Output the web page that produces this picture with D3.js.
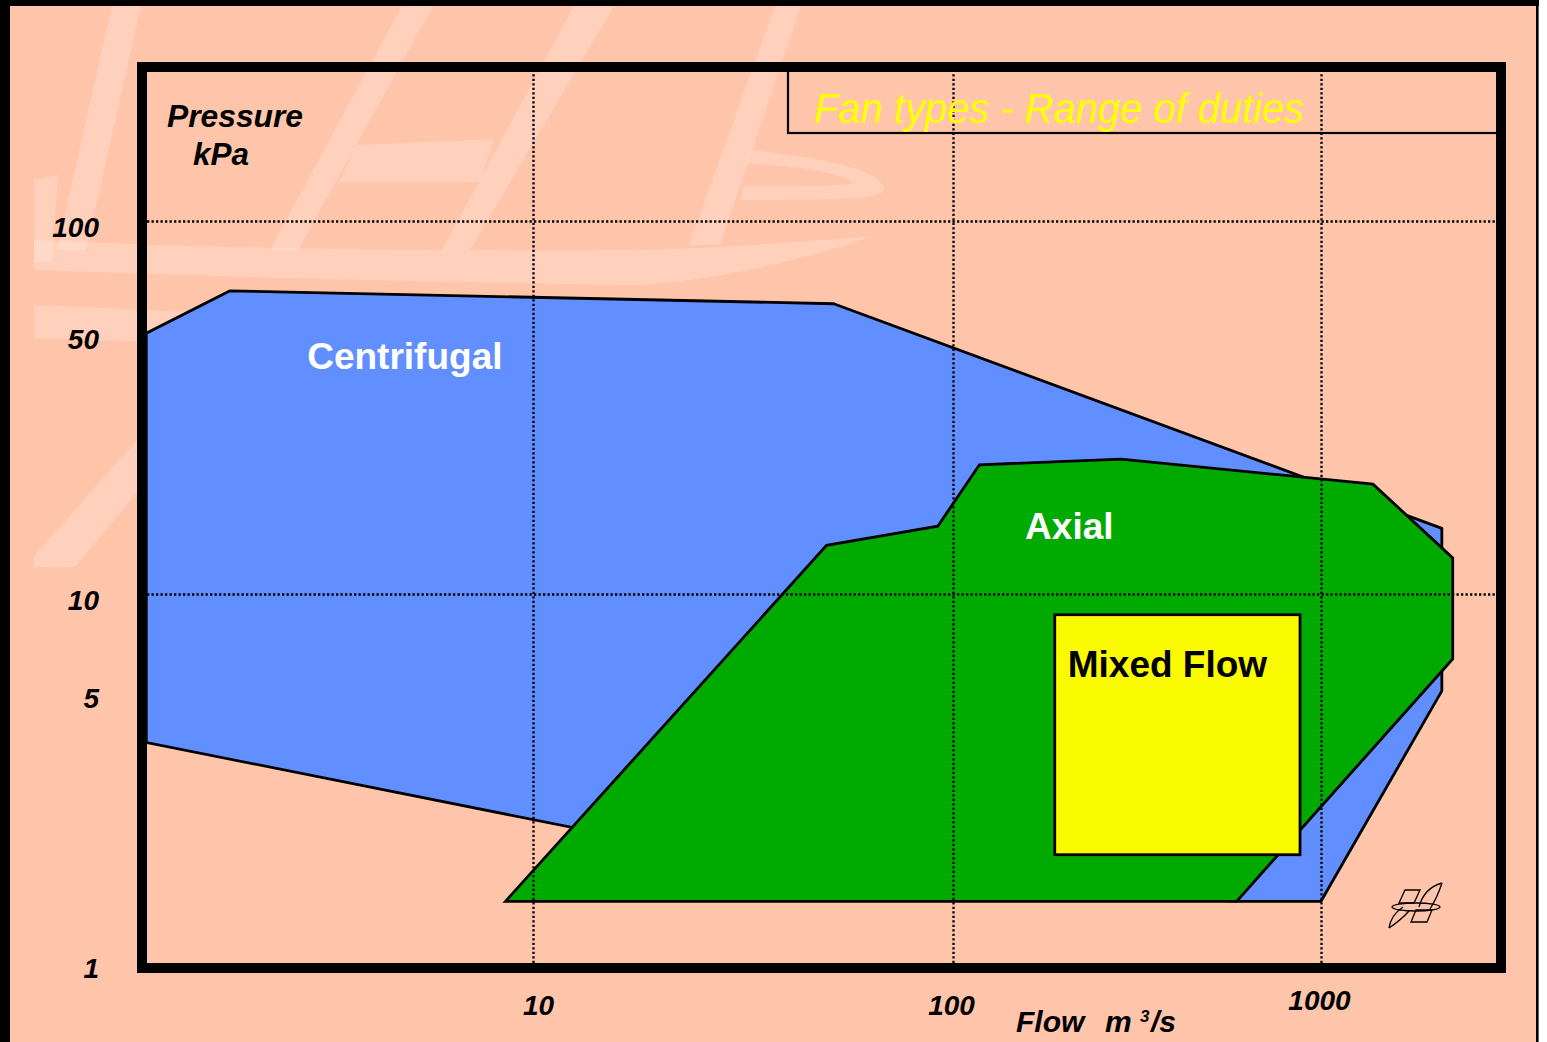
<!DOCTYPE html>
<html><head><meta charset="utf-8">
<script src="https://cdn.jsdelivr.net/npm/d3@7"></script>
<style>
html,body{margin:0;padding:0;background:#fff;overflow:hidden}
svg{display:block}
text{font-family:"Liberation Sans",Arial,Helvetica,sans-serif}
</style></head><body>
<svg id="c" width="1547" height="1042"></svg>
<script>
// ---------- data ----------
const flowTicks = [10, 100, 1000];
const pressureTicks = [1, 5, 10, 50, 100];
const gridFlow = [10, 100, 1000];
const gridPressure = [10, 100];
const centrifugalFlow = [1.2, 1.9, 52, 2130, 2130, 1000, 590, 43, 1.2];
const centrifugalPressure = [50, 65, 60, 15, 5.5, 1.5, 1.5, 1.79, 4];
const axialFlow = [8.6, 50, 92, 118, 286, 1384, 2280, 2280, 590];
const axialPressure = [1.5, 13.5, 15.2, 22.2, 23, 19.7, 12.5, 6.7, 1.5];
const mixedFlowRange = [189, 877];
const mixedPressureRange = [2, 8.8];
const regionNames = ["Centrifugal", "Axial", "Mixed Flow"];
const labelFlow = [2.9, 157, 205];
const labelPressure = [40, 14, 6];
const titleText = "Fan types - Range of duties";
const yAxisTitle = ["Pressure", "kPa"];

// ---------- layout ----------
const inner = {l: 147, r: 1496, t: 72, b: 963};
const x = d3.scaleLog().domain([10, 100, 1000]).range([533, 953, 1321]);
const y = d3.scaleLog().domain([1, 100]).range([967, 221]);
const BG = "#FFC5AB", BLUE = "#628FFF", GREEN = "#00AA00", YELLOW = "#FAFA00";

const svg = d3.select("#c");
svg.append("rect").attr("x", 0).attr("y", 0).attr("width", 1547).attr("height", 1042).attr("fill", "#fff");
svg.append("rect").attr("x", 10).attr("y", 0).attr("width", 1527).attr("height", 1042).attr("fill", BG);
svg.append("rect").attr("x", 0).attr("y", 0).attr("width", 1539).attr("height", 6).attr("fill", "#000");
svg.append("rect").attr("x", 0).attr("y", 0).attr("width", 10).attr("height", 1042).attr("fill", "#000");
svg.append("rect").attr("x", 1536).attr("y", 0).attr("width", 2.6).attr("height", 1042).attr("fill", "#000");

// ---------- watermark (decorative logo) ----------
const wm = svg.append("g").attr("fill", "rgba(255,255,255,0.2)");
[
 "M112,6 L141,6 L86,250 L57,250 Z",
 "M34,180 L58,175 L52,262 L34,262 Z",
 "M34,240 C200,248 450,252 640,250 C720,248 800,242 873,236 C800,262 700,283 631,285 C450,283 200,276 34,270 Z",
 "M34,305 C100,308 200,312 250,316 L250,346 C200,343 100,340 34,338 Z",
 "M402,6 L433,6 L298,250 L270,250 Z",
 "M574,6 L614,6 L470,250 L442,250 Z",
 "M356,145 L494,139 L480,182 L339,182 Z",
 "M775,6 L801,6 L720,245 L689,245 Z",
 "M750,150 C820,158 880,168 884,188 C884,198 860,200 740,200 L744,186 C820,186 850,186 853,182 C842,172 790,166 746,163 Z",
 "M137,440 L137,492 L75,567 L34,567 L34,556 Z"
].forEach(d => wm.append("path").attr("d", d));

// ---------- regions ----------
svg.append("clipPath").attr("id", "clip").append("rect")
  .attr("x", inner.l).attr("y", inner.t).attr("width", inner.r - inner.l).attr("height", inner.b - inner.t);
const plot = svg.append("g").attr("clip-path", "url(#clip)");
const line = d3.line().x(d => x(d[0])).y(d => y(d[1]));
const centrifugal = centrifugalFlow.map((f, i) => [f, centrifugalPressure[i]]);
const axial = axialFlow.map((f, i) => [f, axialPressure[i]]);
plot.append("path").attr("d", line(centrifugal) + "Z").attr("fill", BLUE)
  .attr("stroke", "#000").attr("stroke-width", 2.8).attr("stroke-linejoin", "round");
plot.append("path").attr("d", line(axial) + "Z").attr("fill", GREEN)
  .attr("stroke", "#000").attr("stroke-width", 2.8).attr("stroke-linejoin", "miter");
plot.append("rect")
  .attr("x", x(mixedFlowRange[0])).attr("y", y(mixedPressureRange[1]))
  .attr("width", x(mixedFlowRange[1]) - x(mixedFlowRange[0]))
  .attr("height", y(mixedPressureRange[0]) - y(mixedPressureRange[1]))
  .attr("fill", YELLOW).attr("stroke", "#000").attr("stroke-width", 2.8);

// ---------- gridlines ----------
const gridStyle = g => {
  g.select(".domain").remove();
  g.selectAll("line").attr("stroke", "#000").attr("stroke-width", 2.3).attr("stroke-dasharray", "2.3,2.2");
};
svg.append("g").attr("transform", `translate(0,${inner.b})`)
  .call(d3.axisBottom(x).tickValues(gridFlow).tickSize(-(inner.b - inner.t)).tickFormat(""))
  .call(gridStyle);
svg.append("g").attr("transform", `translate(${inner.l},0)`)
  .call(d3.axisLeft(y).tickValues(gridPressure).tickSize(-(inner.r - inner.l)).tickFormat(""))
  .call(gridStyle);

// ---------- region labels ----------
const labelFill = ["#fff", "#fff", "#000"];
svg.append("g").selectAll("text").data(regionNames).join("text")
  .attr("x", (d, i) => x(labelFlow[i])).attr("y", (d, i) => y(labelPressure[i]))
  .attr("font-size", 37).attr("font-weight", "bold").attr("fill", (d, i) => labelFill[i])
  .text(d => d);

// ---------- title box ----------
svg.append("rect").attr("x", 788).attr("y", 67).attr("width", 712).attr("height", 66)
  .attr("fill", "none").attr("stroke", "#000").attr("stroke-width", 2.2);
svg.append("text").attr("x", 814).attr("y", 123).attr("font-size", 42).attr("font-style", "italic")
  .attr("fill", "#FFFF00").attr("textLength", 490).attr("lengthAdjust", "spacingAndGlyphs").text(titleText);

// ---------- frame ----------
svg.append("rect").attr("x", 142).attr("y", 67).attr("width", 1359).attr("height", 901)
  .attr("fill", "none").attr("stroke", "#000").attr("stroke-width", 10);

// ---------- axes labels ----------
const yNudge = {1: -5, 5: -14};
const yAx = svg.append("g").attr("transform", "translate(99,0)")
  .call(d3.axisLeft(y).tickValues(pressureTicks).tickSize(0).tickPadding(0).tickFormat(d3.format("d")));
yAx.select(".domain").remove();
yAx.selectAll("text").attr("font-family", null).attr("font-size", 28).attr("font-weight", "bold")
  .attr("font-style", "italic").attr("fill", "#000").attr("dy", null)
  .attr("y", d => 15.5 + (yNudge[d] || 0));

const xNudge = {10: 5, 100: -2, 1000: -2};
const xAx = svg.append("g").attr("transform", "translate(0,1015)")
  .call(d3.axisBottom(x).tickValues(flowTicks).tickSize(0).tickPadding(0).tickFormat(d3.format("d")));
xAx.select(".domain").remove();
xAx.selectAll("text").attr("font-family", null).attr("font-size", 28).attr("font-weight", "bold")
  .attr("font-style", "italic").attr("fill", "#000").attr("dy", null)
  .attr("y", d => d === 1000 ? -5 : 0).attr("x", d => xNudge[d] || 0);

const lab = svg.append("g").attr("font-weight", "bold").attr("font-style", "italic").attr("fill", "#000");
lab.append("text").attr("x", 167).attr("y", 127).attr("font-size", 31)
  .attr("textLength", 136).attr("lengthAdjust", "spacingAndGlyphs").text(yAxisTitle[0]);
lab.append("text").attr("x", 193).attr("y", 165).attr("font-size", 31)
  .attr("textLength", 56).attr("lengthAdjust", "spacingAndGlyphs").text(yAxisTitle[1]);
const xt = lab.append("text").attr("y", 1032).attr("font-size", 30);
xt.append("tspan").attr("x", 1016).text("Flow");
xt.append("tspan").attr("x", 1105).text("m");
xt.append("tspan").attr("x", 1140).attr("y", 1022).attr("font-size", 17).text("3");
xt.append("tspan").attr("x", 1151).attr("y", 1032).text("/s");

// ---------- small logo ----------
const logo = svg.append("g").attr("fill", "none").attr("stroke", "#000").attr("stroke-width", 1.3);
[
 "M1405,890 L1420,890 L1414,903 L1399,903 Z",
 "M1416,910 L1432,910 L1427,922 L1411,922 Z",
 "M1442,883 Q1424,888 1419,907",
 "M1442,883 Q1437,898 1430,909",
 "M1389,928 Q1391,915 1403,907",
 "M1389,928 Q1401,920 1409,911"
].forEach(d => logo.append("path").attr("d", d));
logo.append("ellipse").attr("cx", 1416).attr("cy", 907).attr("rx", 24).attr("ry", 4);
</script>
</body></html>
